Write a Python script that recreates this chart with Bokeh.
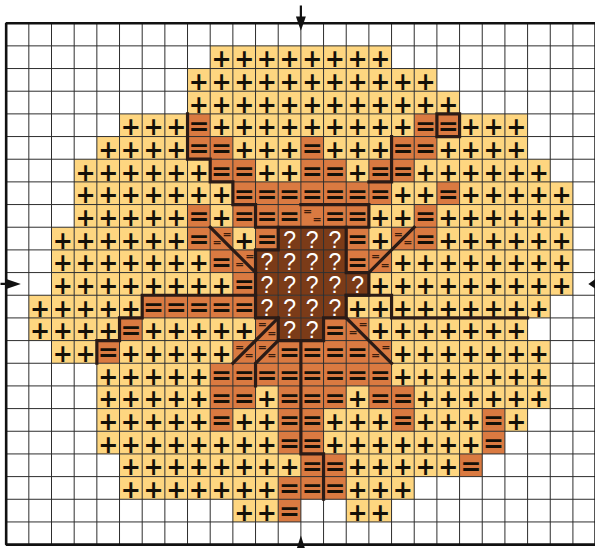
from bokeh.plotting import figure
from bokeh.models import Range1d, ColumnDataSource
from bokeh.embed import file_html
from bokeh.resources import INLINE
from bokeh.core.properties import value

N_COLS = 26
N_ROWS = 23

# '.' empty, '+' light, '=' medium, '?' dark, '/' and '\\' half-stitch cells
PATTERN = [
    "..........................",
    ".........++++++++.........",
    "........+++++++++++.......",
    "........++++++++++++......",
    ".....+++=+++++++++==+++...",
    "....++++==+++=+++==++++...",
    "...++++++==++==+==++++++..",
    "...+++++++=======++=+++++.",
    "...+++++=+===/==++=++++++.",
    "..++++++=\\+=???=+/=++++++.",
    "..+++++++=\\????=/++++++++.",
    "..++++++++=?????+++++++++.",
    ".+++++=====????+++++++++..",
    ".++++=+++++/??=\\+++++++...",
    "..++=+++++//====\\+++++++..",
    "....+++++========+++++++..",
    "....+++++==+===+==++++++..",
    "....+++++=++==+++=+++=+...",
    "....++++++++==+++++++=....",
    ".....++++++++==+++++=.....",
    ".....+++++++===+++........",
    "..........++=..++.........",
    "..........................",
]

# backstitch outlines, in cell-corner coordinates (column, row)
BACKSTITCH = [
    [(12, 9), (15, 9), (15, 11), (16, 11), (16, 12), (15, 12), (15, 13), (14, 13),
     (14, 14), (12, 14), (12, 13), (11, 13), (11, 10), (12, 10), (12, 9)],
    [(8, 4), (8, 6), (9, 6), (9, 7), (10, 7), (10, 8), (11, 8), (11, 9), (12, 9)],
    [(9, 9), (11, 11)],
    [(16, 11), (18, 9)],
    [(15, 13), (17, 15)],
    [(12, 13), (10, 15)],
    [(12, 14), (11, 15), (11, 16)],
    [(11, 12), (6, 12), (6, 13), (5, 13), (5, 14), (4, 14), (4, 15)],
    [(15, 12), (17, 12), (17, 13), (23, 13)],
    [(13, 14), (13, 19), (14, 19), (14, 21)],
    [(13, 8), (14, 8), (16, 8), (16, 9), (15, 9)],
    [(19, 4), (20, 4), (20, 5), (19, 5), (19, 4)],
    [(17, 5), (17, 7), (16, 7)],
]

LIGHT = "#FED680"
MED = "#DA7A41"
DARK = "#7B3B18"
STITCH = "#2B1B16"
GRIDC = "#2E2E2E"

FILL = {"+": LIGHT, "=": MED, "?": DARK, "/": MED, "\\": MED}

cw = 22.67
left_px = 5.67
top_px = 22.7
W, H = 595, 548

p = figure(width=W, height=H, output_backend="svg", toolbar_location=None,
           x_range=Range1d(-left_px / cw, -left_px / cw + W / cw),
           y_range=Range1d(-top_px / cw + H / cw, -top_px / cw),
           min_border=0, outline_line_color=None)
p.axis.visible = False
p.grid.visible = False
p.background_fill_color = "white"

cells = dict(l=[], r=[], t=[], b=[], c=[])
syms = dict(x=[], y=[], s=[])
small = dict(x=[], y=[])
for r, row in enumerate(PATTERN):
    for c, ch in enumerate(row):
        if ch == ".":
            continue
        cells["l"].append(c); cells["r"].append(c + 1)
        cells["t"].append(r); cells["b"].append(r + 1)
        cells["c"].append(FILL[ch])
        if ch in "+=?":
            syms["x"].append(c + 0.5); syms["y"].append(r + 0.5)
            syms["s"].append(ch)
        elif ch == "\\":
            small["x"] += [c + 0.3, c + 0.75]; small["y"] += [r + 0.66, r + 0.3]
        else:
            small["x"] += [c + 0.3, c + 0.72]; small["y"] += [r + 0.3, r + 0.68]

p.quad(left="l", right="r", top="t", bottom="b", fill_color="c", line_color=None,
       source=ColumnDataSource(cells))

# grid lines
gx = [[i, i] for i in range(N_COLS + 1)] + [[0, N_COLS] for j in range(N_ROWS + 1)]
gy = [[0, N_ROWS] for i in range(N_COLS + 1)] + [[j, j] for j in range(N_ROWS + 1)]
p.multi_line(gx, gy, line_color=GRIDC, line_width=1)

def pick(sym):
    idx = [i for i, s in enumerate(syms["s"]) if s == sym]
    return [syms["x"][i] for i in idx], [syms["y"][i] for i in idx]

px, py = pick("+")
p.text(x=px, y=py, text=["+"] * len(px), text_align="center", text_baseline="middle",
       text_font=value("DejaVu Sans"), text_font_style="bold", text_font_size="24px",
       text_color="#141008", y_offset=1)
ex, ey = pick("=")
p.text(x=ex, y=ey, text=["="] * len(ex), text_align="center", text_baseline="middle",
       text_font=value("DejaVu Sans"), text_font_style="bold", text_font_size="25px",
       text_color="#141008", y_offset=1)
qx, qy = pick("?")
p.text(x=qx, y=qy, text=["?"] * len(qx), text_align="center", text_baseline="middle",
       text_font=value("Liberation Sans"), text_font_size="23px", text_color="white",
       y_offset=1)
p.text(x=small["x"], y=small["y"], text=["="] * len(small["x"]), text_align="center",
       text_baseline="middle", text_font=value("DejaVu Sans"), text_font_style="bold",
       text_font_size="11px", text_color="#3a1c0c")

p.multi_line([[pt[0] for pt in s] for s in BACKSTITCH], [[pt[1] for pt in s] for s in BACKSTITCH],
             line_color=STITCH, line_width=3.2, line_join="miter", line_cap="square")

# border
p.quad(left=[0], right=[N_COLS], top=[0], bottom=[N_ROWS], fill_color=None,
       line_color="#111111", line_width=2.6)

# centre arrows
cx, cy = N_COLS / 2, N_ROWS / 2
p.segment(x0=[cx, cx, -0.3, N_COLS], y0=[-0.78, N_ROWS, cy, cy],
          x1=[cx, cx, 0, N_COLS + 0.3], y1=[0, N_ROWS + 0.3, cy, cy],
          line_color="#111111", line_width=2.2)
p.patches(xs=[[cx - 0.22, cx + 0.22, cx], [cx - 0.22, cx + 0.22, cx],
              [0, 0, 0.65], [N_COLS, N_COLS, N_COLS - 0.32]],
          ys=[[-0.3, -0.3, 0.33], [N_ROWS + 0.3, N_ROWS + 0.3, N_ROWS - 0.4],
              [cy - 0.22, cy + 0.22, cy], [cy - 0.22, cy + 0.22, cy]],
          fill_color="#111111", line_color=None)

open("out.html", "w").write(file_html(p, INLINE))
